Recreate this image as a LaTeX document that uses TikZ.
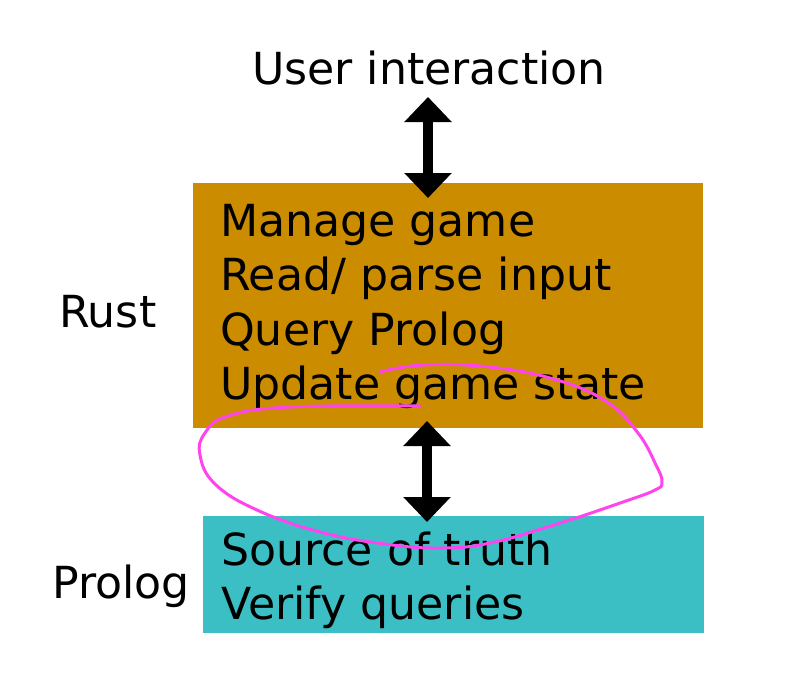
\documentclass[tikz,border=0pt]{standalone}
\usepackage{fontspec}
\setmainfont{DejaVu Sans}
\usetikzlibrary{arrows.meta}
\definecolor{rustc}{HTML}{CC8C00}
\definecolor{prologc}{HTML}{3BBFC4}
\definecolor{inkpink}{HTML}{FF44EE}
\begin{document}
\begin{tikzpicture}[x=1pt,y=-1pt,
  lbl/.style={font=\fontsize{44.2}{54}\selectfont, inner sep=0pt, anchor=base west},
  box/.style={inner sep=0pt, outer sep=0pt},
  dblarrow/.style={line width=10pt, {Triangle[width=46pt,length=25pt]}-{Triangle[width=46pt,length=25pt]}},
  ink/.style={inkpink, line width=3pt, line cap=round, line join=round}]
\useasboundingbox (0,0) rectangle (800,681);
\fill[rustc] (193,183) rectangle (703,428);
\node[box] (rust) at (448,305.5) {};
\fill[prologc] (203,516) rectangle (704,633);
\node[box] (prolog) at (453.5,574.5) {};
\node[lbl, anchor=base] (user) at (429,84) {User interaction};
\node[lbl] (rustlbl) at (59,327) {Rust};
\node[lbl] (prologlbl) at (52,598) {Prolog};
\node[lbl] (r1) at (220,236) {Manage game};
\node[lbl] (r2) at (220,290) {Read/ parse input};
\node[lbl] (r3) at (220,345) {Query Prolog};
\node[lbl] (r4) at (220,399) {Update game state};
\node[lbl] (p1) at (221,565) {Source of truth};
\node[lbl] (p2) at (221,619) {Verify queries};
\coordinate (a1) at (428,97);
\coordinate (a2) at (428,198);
\coordinate (b1) at (427,421);
\coordinate (b2) at (427,522);
\draw[dblarrow] (a1) -- (a2);
\draw[dblarrow] (b1) -- (b2);
\draw[ink] plot[smooth, tension=0.7] coordinates {(380,372) (423,365) (490,367) (557,380) (607,402) (638,433) (656,465) (662,482) (655,490) (623,502) (557,524) (490,543) (440,548) (385,544) (320,532) (257,510) (215,484) (200,455) (205,433) (228,416) (290,407) (420,406)};
\end{tikzpicture}
\end{document}
